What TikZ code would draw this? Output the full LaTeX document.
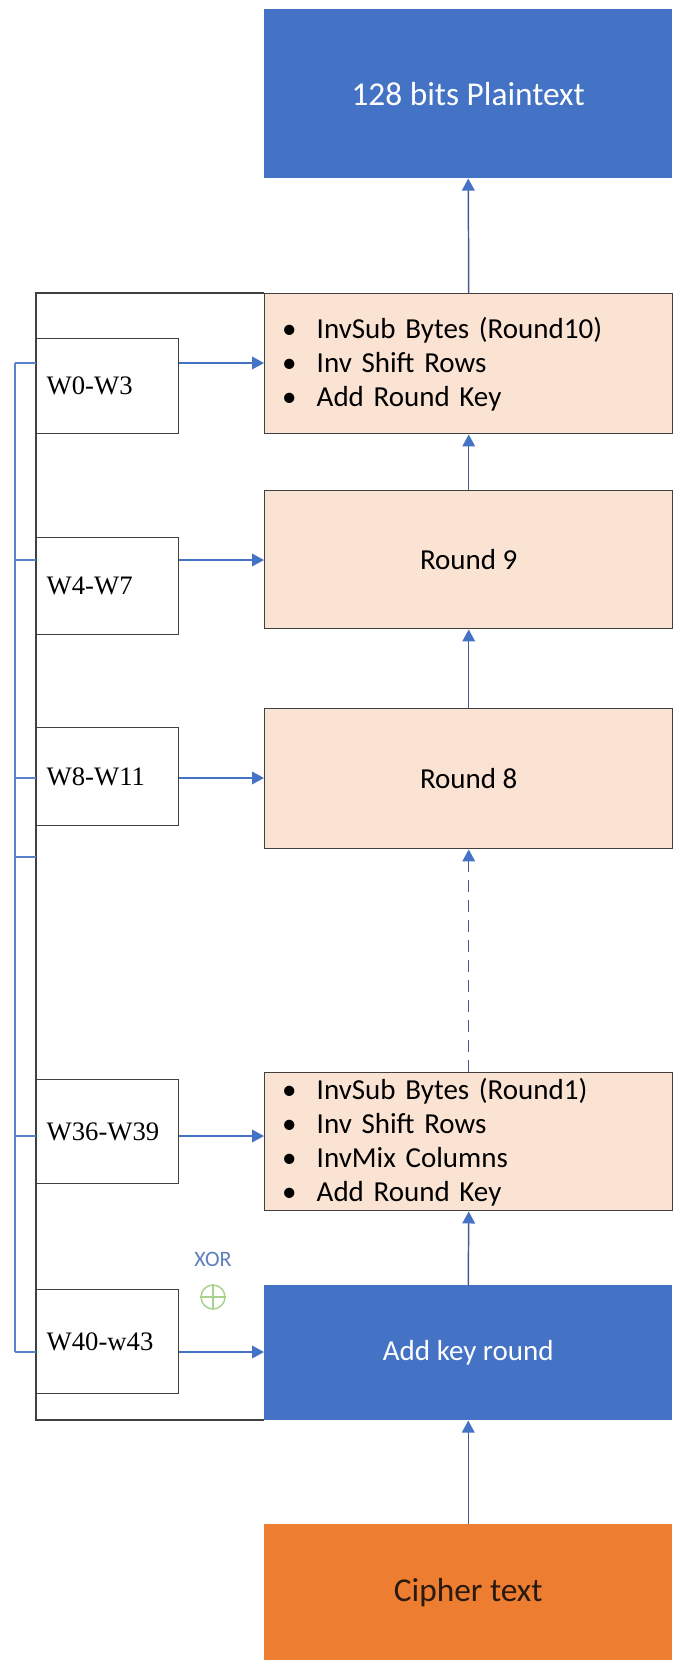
\documentclass[tikz,border=0pt]{standalone}
\usepackage{fontspec}
\setmainfont{Carlito}
\newfontfamily\wfont{Liberation Serif}
\usetikzlibrary{arrows.meta}
\definecolor{accblue}{HTML}{4472C4}
\definecolor{vline}{HTML}{44598E}
\definecolor{busblue}{HTML}{5A82CC}
\definecolor{peach}{HTML}{FBE3D3}
\definecolor{accorange}{HTML}{ED7D31}
\definecolor{edgegray}{HTML}{404040}
\definecolor{xorblue}{HTML}{5B7FBF}
\definecolor{xorgreen}{HTML}{A9D18E}
\definecolor{ciphertxt}{HTML}{2A1A10}
\newcommand{\bitem}[1]{\makebox[26pt][l]{\textbullet}#1\\}
\tikzset{
  stage/.style={rectangle, anchor=north west, minimum width=306pt, inner sep=0pt},
  bluebox/.style={stage, fill=accblue, text=white},
  roundbox/.style={stage, fill=peach, draw=edgegray, line width=1.1pt,
    font=\fontsize{21.75pt}{25.5pt}\selectfont},
  listbox/.style={roundbox, text width=280pt, align=left, inner xsep=13pt},
  keybox/.style={rectangle, anchor=north west, draw=edgegray, fill=white, line width=1.1pt,
    minimum width=106.5pt, text width=91.5pt, inner xsep=7.5pt, align=left,
    font=\wfont\fontsize{20pt}{24pt}\selectfont},
  flow/.style={draw=accblue, line width=1.1pt, -{Triangle[width=9.5pt,length=9pt]}},
  flowv/.style={draw=vline, line width=1.1pt, -{Triangle[width=9.5pt,length=9pt,color=accblue]}},
  bus/.style={draw=busblue, line width=1.4pt},
  frame/.style={draw=edgegray, line width=1.5pt}
}
\begin{document}
\begin{tikzpicture}[x=0.75pt,y=-0.75pt]
\useasboundingbox[fill=white] (0,0) rectangle (672,1664);

% outer frame behind the key column
\coordinate (ftop) at (36,293);
\coordinate (fbot) at (36,1420);
\draw[frame] (264,293) -- (ftop) -- (fbot) -- (264,1420);

% main stages
\node[bluebox, minimum height=126.75pt, font=\fontsize{25pt}{30pt}\selectfont] (plain) at (264,9) {128 bits Plaintext};
\node[listbox, minimum height=105pt] (r10) at (264,293)
  {\bitem{InvSub Bytes (Round10)}\bitem{Inv Shift Rows}\bitem{Add Round Key}};
\node[roundbox, minimum height=103.5pt] (r9) at (264,490) {Round 9};
\node[roundbox, minimum height=105pt] (r8) at (264,708) {Round 8};
\node[listbox, minimum height=103.5pt] (r1) at (264,1072)
  {\bitem{InvSub Bytes (Round1)}\bitem{Inv Shift Rows}\bitem{InvMix Columns}\bitem{Add Round Key}};
\node[bluebox, minimum height=101.25pt, font=\fontsize{21.75pt}{25.5pt}\selectfont] (addkey) at (264,1285) {Add key round};
\node[stage, fill=accorange, text=ciphertxt, minimum height=102pt, font=\fontsize{25pt}{30pt}\selectfont] (cipher) at (264,1524) {Cipher text};

% round keys
\node[keybox, minimum height=71.25pt] (w0) at (36,338) {W0-W3};
\node[keybox, minimum height=72.75pt] (w4) at (36,537) {W4-W7};
\node[keybox, minimum height=73.5pt] (w8) at (36,727) {W8-W11};
\node[keybox, minimum height=78pt] (w36) at (36,1079) {W36-W39};
\node[keybox, minimum height=78pt] (w40) at (36,1289) {W40-w43};

% XOR mark
\node[text=xorblue, font=\fontsize{16.5pt}{18pt}\selectfont] (xor) at (213,1259) {XOR};
\node[circle, draw=xorgreen, line width=1.1pt, minimum size=18pt, inner sep=0pt] (xsym) at (213,1297) {};
\draw[xorgreen, line width=1.1pt] (xsym.north) -- (xsym.south) (xsym.west) -- (xsym.east);

% data path
\draw[flowv] (cipher.north) -- (addkey.south);
\draw[flowv] (addkey.north) -- (r1.south);
\draw[flowv, dash pattern=on 9pt off 6pt] (r1.north) -- (r8.south);
\draw[flowv] (r8.north) -- (r9.south);
\draw[flowv] (r9.north) -- (r10.south);
\draw[flowv] (r10.north) -- (plain.south);

% key bus
\coordinate (k0) at (15,363);
\coordinate (k4) at (15,560);
\coordinate (k8) at (15,778);
\coordinate (kx) at (15,857);
\coordinate (k36) at (15,1136);
\coordinate (k40) at (15,1352);
\draw[bus] (k0) -- (k40);
\foreach \k in {k0,k4,k8,kx,k36,k40} \draw[bus] (\k) -- (\k -| ftop);

\draw[flow] (k0 -| w0.east) -- (k0 -| r10.west);
\draw[flow] (k4 -| w4.east) -- (k4 -| r9.west);
\draw[flow] (k8 -| w8.east) -- (k8 -| r8.west);
\draw[flow] (k36 -| w36.east) -- (k36 -| r1.west);
\draw[flow] (k40 -| w40.east) -- (k40 -| addkey.west);
\end{tikzpicture}
\end{document}
